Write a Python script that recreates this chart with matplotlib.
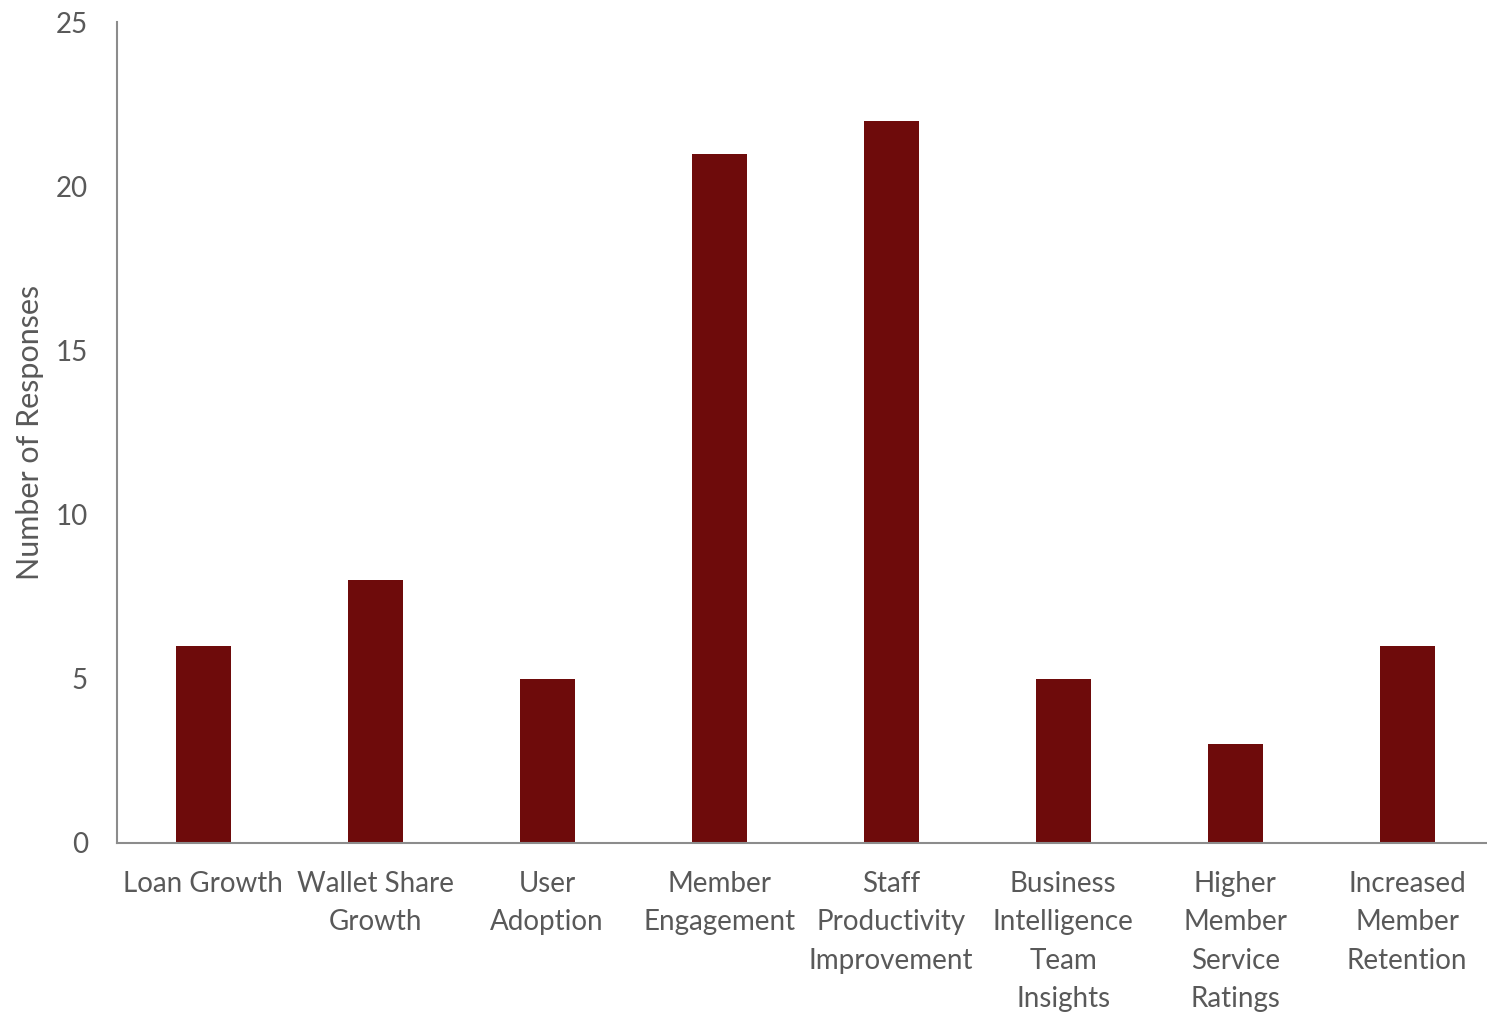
import matplotlib.pyplot as plt

categories = [
    "Loan Growth",
    "Wallet Share\nGrowth",
    "User\nAdoption",
    "Member\nEngagement",
    "Staff\nProductivity\nImprovement",
    "Business\nIntelligence\nTeam\nInsights",
    "Higher\nMember\nService\nRatings",
    "Increased\nMember\nRetention",
]
responses = [6, 8, 5, 21, 22, 5, 3, 6]
y_ticks = [0, 5, 10, 15, 20, 25]

plt.rcParams['font.family'] = ['Lato', 'DejaVu Sans']
text_color = '#595959'

fig = plt.figure(figsize=(14.87, 10.13), dpi=100)
ax = fig.add_axes([0.0787, 0.168, 0.9255, 0.81])

x = range(len(categories))
ax.bar(x, responses, width=0.32, color='#6E0B0B')

ax.set_xlim(-0.5, len(categories) - 0.5)
ax.set_ylim(0, 25)
ax.set_yticks(y_ticks)
ax.set_xticks(list(x))
ax.set_xticklabels(categories, linespacing=1.6)

ax.tick_params(axis='both', length=0, labelsize=20, colors=text_color)
ax.tick_params(axis='x', pad=20)
ax.tick_params(axis='y', pad=21)

for side in ['top', 'right']:
    ax.spines[side].set_visible(False)
for side in ['left', 'bottom']:
    ax.spines[side].set_color('#8C8C8C')
    ax.spines[side].set_linewidth(1.5)

ax.set_ylabel('Number of Responses', fontsize=22, color=text_color, labelpad=8)

fig.savefig('out.png', dpi=100)
